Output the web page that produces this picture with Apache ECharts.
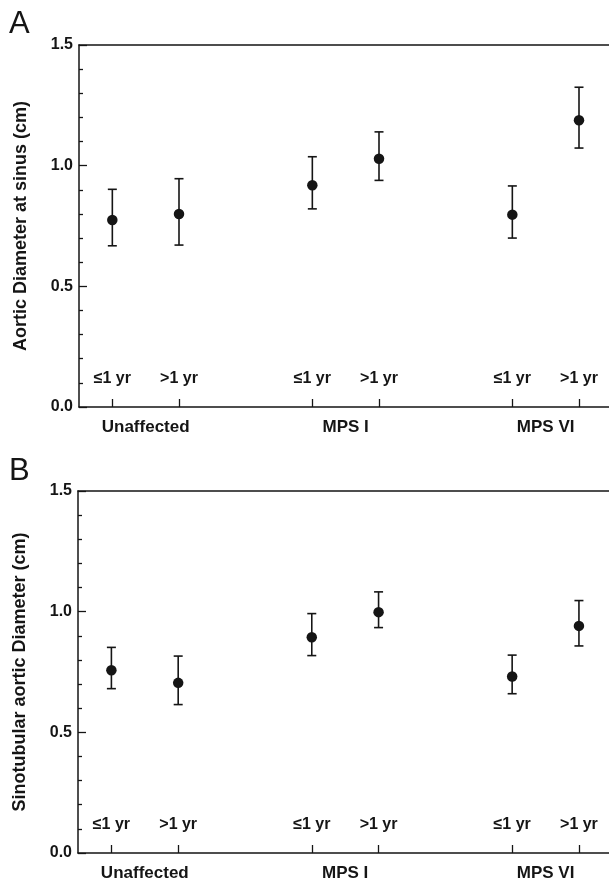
<!DOCTYPE html>
<html>
<head>
<meta charset="utf-8">
<script src="https://cdn.jsdelivr.net/npm/echarts@6/dist/echarts.min.js"></script>
<style>
  html, body { margin: 0; padding: 0; background: #fff; }
  #chart { width: 609px; height: 887px; }
</style>
</head>
<body>
<div id="chart"></div>
<script>
// positions of the age groups on the x axis
const xPos = [1, 2, 4, 5, 7, 8]
const ageLabels = ['≤1 yr', '>1 yr', '≤1 yr', '>1 yr', '≤1 yr', '>1 yr']
const groupPos = [1.5, 4.5, 7.5]
const groupLabels = ['Unaffected', 'MPS I', 'MPS VI']
const yTicks = [0, 0.5, 1.0, 1.5]

// panel A: aortic diameter at sinus
const meanA = [0.775, 0.800, 0.919, 1.029, 0.797, 1.188]
const lowA = [0.668, 0.671, 0.821, 0.939, 0.700, 1.073]
const highA = [0.902, 0.946, 1.037, 1.140, 0.916, 1.325]

// panel B: sinotubular aortic diameter
const meanB = [0.757, 0.705, 0.894, 0.998, 0.731, 0.941]
const lowB = [0.681, 0.615, 0.818, 0.934, 0.660, 0.858]
const highB = [0.852, 0.816, 0.992, 1.082, 0.820, 1.046]

const font = '"Liberation Sans", Arial, Helvetica, sans-serif'
const ink = '#151515'

const chart = echarts.init(document.getElementById('chart'))

function errorBars(lo, hi, idx) {
  return {
    type: 'custom',
    xAxisIndex: idx * 3,
    yAxisIndex: idx,
    data: xPos.map((x, i) => [x, lo[i], hi[i]]),
    encode: { x: 0, y: [1, 2] },
    silent: true,
    renderItem(params, api) {
      const x = api.value(0)
      const top = api.coord([x, api.value(2)])
      const bot = api.coord([x, api.value(1)])
      const w = 4.5
      const st = { stroke: ink, lineWidth: 1.6 }
      return {
        type: 'group',
        children: [
          { type: 'line', shape: { x1: top[0], y1: top[1], x2: bot[0], y2: bot[1] }, style: st },
          { type: 'line', shape: { x1: top[0] - w, y1: top[1], x2: top[0] + w, y2: top[1] }, style: st },
          { type: 'line', shape: { x1: bot[0] - w, y1: bot[1], x2: bot[0] + w, y2: bot[1] }, style: st }
        ]
      }
    }
  }
}

function dots(mean, idx) {
  return {
    type: 'scatter',
    xAxisIndex: idx * 3,
    yAxisIndex: idx,
    symbolSize: 10.5,
    itemStyle: { color: ink, opacity: 1 },
    data: xPos.map((x, i) => [x, mean[i]]),
    z: 5
  }
}

function xAxes(gridIndex) {
  const base = { type: 'value', gridIndex, min: 0.5, max: 8.45, splitLine: { show: false } }
  return [
    {
      ...base,
      position: 'bottom',
      axisLine: { lineStyle: { color: ink, width: 1.5 } },
      axisTick: { inside: true, length: 8, customValues: xPos, lineStyle: { color: ink, width: 1.3 } },
      axisLabel: {
        inside: true, margin: 20, customValues: xPos,
        formatter: v => ageLabels[xPos.indexOf(v)] || '',
        fontFamily: font, fontWeight: 'bold', fontSize: 16, color: ink
      }
    },
    {
      ...base,
      position: 'bottom',
      axisLine: { show: false },
      axisTick: { show: false },
      axisLabel: {
        margin: 12, customValues: groupPos,
        formatter: v => groupLabels[groupPos.indexOf(v)] || '',
        fontFamily: font, fontWeight: 'bold', fontSize: 17, color: ink
      }
    },
    {
      ...base,
      position: 'top',
      axisLine: { lineStyle: { color: ink, width: 1.5 } },
      axisTick: { show: false },
      axisLabel: { show: false }
    }
  ]
}

function yAxis(gridIndex, title) {
  return {
    type: 'value',
    gridIndex,
    min: 0,
    max: 1.5,
    interval: 0.5,
    name: title,
    nameLocation: 'middle',
    nameGap: 49,
    nameTextStyle: { fontFamily: font, fontWeight: 'bold', fontSize: 18, color: ink },
    splitLine: { show: false },
    axisLine: { show: true, lineStyle: { color: ink, width: 1.5 } },
    axisTick: { inside: true, length: 8, lineStyle: { color: ink, width: 1.3 } },
    minorTick: { show: true, splitNumber: 5, length: 4, lineStyle: { color: ink, width: 1.3 } },
    axisLabel: {
      margin: 6,
      formatter: v => v.toFixed(1),
      customValues: yTicks,
      fontFamily: font, fontWeight: 'bold', fontSize: 16, color: ink
    }
  }
}

chart.setOption({
  animation: false,
  backgroundColor: '#fff',
  grid: [
    { left: 79, right: 0, top: 45, height: 362 },
    { left: 78, right: 0, top: 491, height: 362 }
  ],
  xAxis: [...xAxes(0), ...xAxes(1)],
  yAxis: [
    yAxis(0, 'Aortic Diameter at sinus (cm)'),
    yAxis(1, 'Sinotubular aortic Diameter (cm)')
  ],
  graphic: [
    { type: 'text', left: 9, top: 9, style: { text: 'A', font: '31px ' + font, fill: ink } },
    { type: 'text', left: 9, top: 456, style: { text: 'B', font: '31px ' + font, fill: ink } }
  ],
  series: [
    errorBars(lowA, highA, 0),
    dots(meanA, 0),
    errorBars(lowB, highB, 1),
    dots(meanB, 1)
  ]
})
</script>
</body>
</html>
